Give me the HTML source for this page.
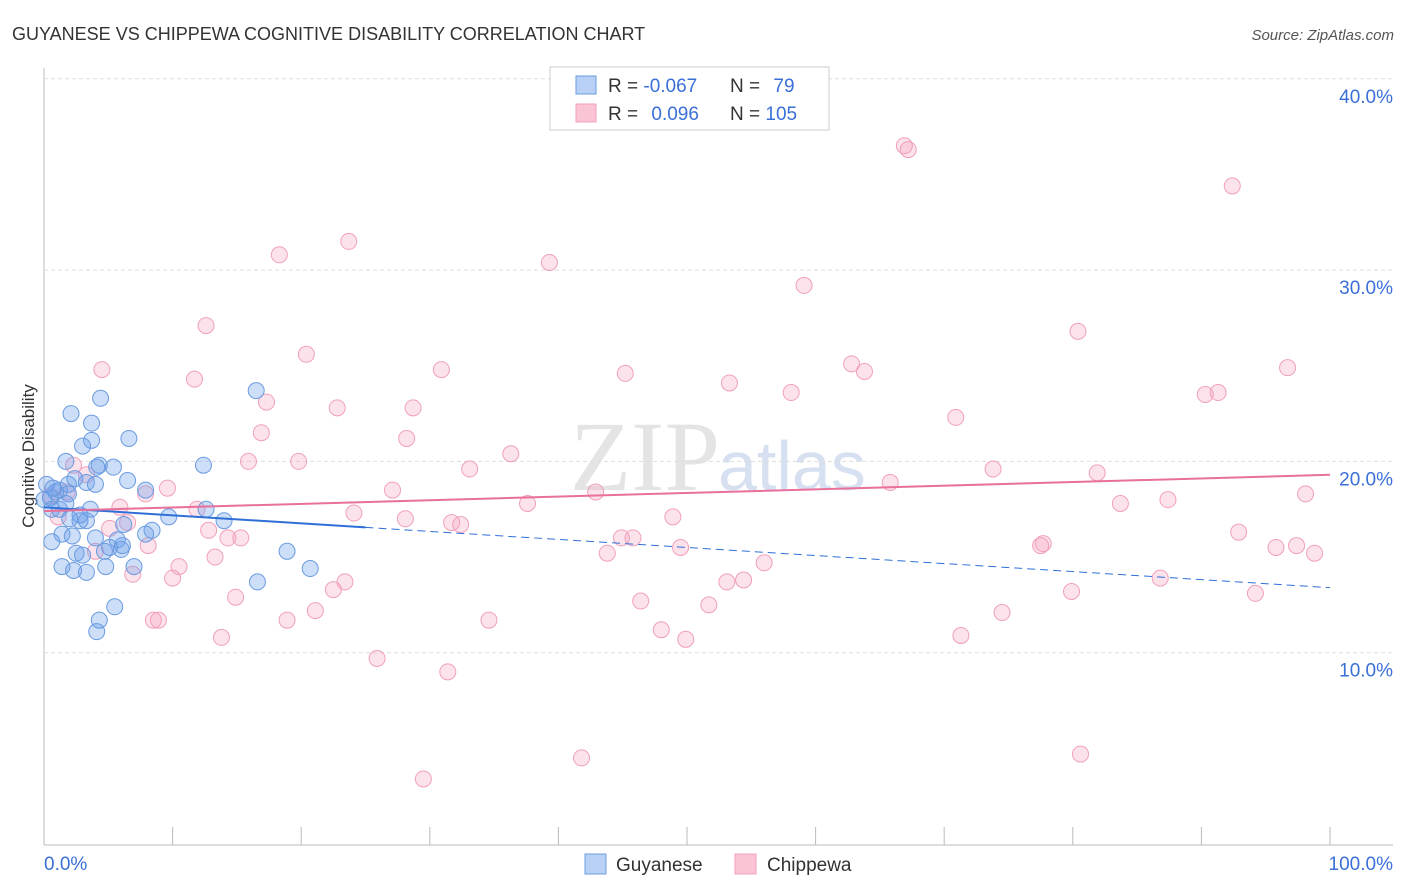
<!DOCTYPE html>
<html><head><meta charset="utf-8"><style>
body{margin:0;background:#fff;font-family:"Liberation Sans",sans-serif;}
svg{display:block}
</style></head><body>
<svg id="chart" width="1406" height="892">
<text x="12" y="40" font-size="18" fill="#333">GUYANESE VS CHIPPEWA COGNITIVE DISABILITY CORRELATION CHART</text>
<text x="1394" y="40" font-size="15" fill="#555" font-style="italic" text-anchor="end">Source: ZipAtlas.com</text>
<text x="34" y="456" font-size="17" fill="#333" transform="rotate(-90 34 456)" text-anchor="middle">Cognitive Disability</text>
<text x="720" y="490" font-size="100" fill="#e4e4e4" text-anchor="end" font-family="Liberation Serif,serif">ZIP</text>
<text x="718" y="490" font-size="70" fill="#d6e0f0">atlas</text>
<g id="grid"></g><g id="pts"></g><g id="lines"></g>
<g>
<rect x="550" y="67" width="279" height="63" fill="#fff" stroke="#ccc"/>
<rect x="576" y="76" width="20" height="18" fill="#b8d0f5" stroke="#6a9be0"/>
<rect x="576" y="104" width="20" height="18" fill="#fac4d4" stroke="#f0a0bc"/>
<text x="608" y="92" font-size="19" fill="#333">R = <tspan fill="#3a6fd8">-0.067</tspan></text>
<text x="730" y="92" font-size="19" fill="#333">N = <tspan fill="#3a6fd8" dx="8">79</tspan></text>
<text x="608" y="120" font-size="19" fill="#333">R = <tspan fill="#3a6fd8" dx="8">0.096</tspan></text>
<text x="730" y="120" font-size="19" fill="#333">N = <tspan fill="#3a6fd8">105</tspan></text>
</g>
<g>
<rect x="585" y="854" width="21" height="20" fill="#b8d0f5" stroke="#6a9be0"/>
<text x="616" y="871" font-size="19" fill="#333">Guyanese</text>
<rect x="735" y="854" width="21" height="20" fill="#fac4d4" stroke="#f0a0bc"/>
<text x="767" y="871" font-size="19" fill="#333">Chippewa</text>
</g>
</svg>
<script>
const yTicks=[10,20,30,40];
const xTickLabels=["0.0%","100.0%"];
const blueX=[16.5,4.4,2.1,3.7,6.6,3.7,3.0,1.7,4.3,5.4,12.4,4.1,6.5,3.3,4.0,7.9,1.2,1.9,0.5,0.9,0.2,1.9,2.4,0.6,1.2,3.6,12.6,9.7,14.0,2.8,3.3,6.2,8.4,7.9,4.0,1.4,2.2,0.6,5.7,5.1,6.0,6.1,4.7,2.5,3.0,18.9,1.4,2.3,3.3,4.8,7.0,20.7,16.6,5.5,4.3,4.1,0.7,2.8,1.7,2.0,0];
const blueY=[23.7,23.3,22.5,22.0,21.2,21.1,20.8,20.0,19.8,19.7,19.8,19.7,19.0,18.9,18.8,18.5,18.5,18.3,18.1,18.4,18.8,18.8,19.1,17.5,17.5,17.5,17.5,17.1,16.9,16.9,16.9,16.7,16.4,16.2,16.0,16.2,16.1,15.8,15.9,15.5,15.4,15.6,15.3,15.2,15.1,15.3,14.5,14.3,14.2,14.5,14.5,14.4,13.7,12.4,11.7,11.1,18.6,17.2,17.8,17.0,18.0];
const pinkX=[66.9,67.2,92.4,23.7,18.3,39.3,59.1,12.6,80.4,20.4,4.5,30.9,45.2,62.8,63.8,96.7,11.7,53.3,58.1,90.3,91.3,17.3,22.8,28.7,70.9,16.9,28.2,36.3,15.9,19.8,33.1,73.8,81.9,65.8,2.3,3.3,7.9,9.6,27.1,42.9,87.4,98.1,83.7,37.6,11.9,24.1,28.1,31.7,32.4,48.9,5.9,6.5,12.8,14.3,15.3,92.9,44.9,45.8,77.5,77.7,95.8,97.4,98.8,43.8,49.5,4.0,13.3,56.0,10.5,6.9,10.0,23.4,22.5,53.1,54.4,86.8,79.9,94.2,14.9,46.4,51.7,21.1,18.9,34.6,74.5,8.5,8.9,48.0,13.8,49.9,71.3,25.9,31.4,41.8,80.6,29.5,5.1,8.1,0.5,1.1,1.8];
const pinkY=[36.5,36.3,34.4,31.5,30.8,30.4,29.2,27.1,26.8,25.6,24.8,24.8,24.6,25.1,24.7,24.9,24.3,24.1,23.6,23.5,23.6,23.1,22.8,22.8,22.3,21.5,21.2,20.4,20.0,20.0,19.6,19.6,19.4,18.9,19.8,19.3,18.3,18.6,18.5,18.4,18.0,18.3,17.8,17.8,17.5,17.3,17.0,16.8,16.7,17.1,17.6,16.8,16.4,16.0,16.0,16.3,16.0,16.0,15.6,15.7,15.5,15.6,15.2,15.2,15.5,15.3,15.0,14.7,14.5,14.1,13.9,13.7,13.3,13.7,13.8,13.9,13.2,13.1,12.9,12.7,12.5,12.2,11.7,11.7,12.1,11.7,11.7,11.2,10.8,10.7,10.9,9.7,9.0,4.5,4.7,3.4,16.5,15.6,18.2,17.1,18.4];
const blueTrend=[17.6,13.4];
const pinkTrend=[17.4,19.3];
const blueSolidEnd=25;

const NS="http://www.w3.org/2000/svg";
const xs=v=>44+v*12.86;
const ys=v=>844-v*19.13;
function mk(tag,attrs,parent){const e=document.createElementNS(NS,tag);for(const k in attrs)e.setAttribute(k,attrs[k]);parent.appendChild(e);return e;}
const grid=document.getElementById('grid'),pts=document.getElementById('pts'),lines=document.getElementById('lines');
mk('line',{x1:44,y1:68,x2:44,y2:845,stroke:'#bbb'},grid);
mk('line',{x1:44,y1:845,x2:1393,y2:845,stroke:'#bbb'},grid);
for(let i=0;i<=10;i++){const t=mk('line',{x1:xs(i*10),y1:827,x2:xs(i*10),y2:845,stroke:'#bbb'},grid);

}
yTicks.forEach(v=>{const g=mk('line',{x1:44,y1:ys(v),x2:1393,y2:ys(v),stroke:'#ddd','stroke-dasharray':'4,3'},grid);


const t=mk('text',{x:1393,y:ys(v)+24,'font-size':19,fill:'#3a6fd8','text-anchor':'end'},grid);t.textContent=v.toFixed(1)+'%';

});
const l0=mk('text',{x:44,y:870,'font-size':19,fill:'#3a6fd8'},grid);l0.textContent=xTickLabels[0];


const l1=mk('text',{x:1393,y:870,'font-size':19,fill:'#3a6fd8','text-anchor':'end'},grid);l1.textContent=xTickLabels[1];


pinkX.forEach((x,i)=>{const c=mk('circle',{cx:xs(x),cy:ys(pinkY[i]),r:8,fill:'rgba(245,160,190,0.3)',stroke:'#f0a0bc','stroke-width':1},pts);

});
blueX.forEach((x,i)=>{const c=mk('circle',{cx:xs(x),cy:ys(blueY[i]),r:8,fill:'rgba(110,160,235,0.35)',stroke:'#6a9be0','stroke-width':1},pts);

});
const bAt=v=>blueTrend[0]+(blueTrend[1]-blueTrend[0])*v/100;
const b1=mk('line',{x1:xs(0),y1:ys(bAt(0)),x2:xs(blueSolidEnd),y2:ys(bAt(blueSolidEnd)),stroke:'#2f6fd8','stroke-width':2},lines);


const b2=mk('line',{x1:xs(blueSolidEnd),y1:ys(bAt(blueSolidEnd)),x2:xs(100),y2:ys(bAt(100)),stroke:'#2f6fd8','stroke-width':1,'stroke-dasharray':'8,5'},lines);


const p1=mk('line',{x1:xs(0),y1:ys(pinkTrend[0]),x2:xs(100),y2:ys(pinkTrend[1]),stroke:'#e8709a','stroke-width':2},lines);


</script>
</body></html>
